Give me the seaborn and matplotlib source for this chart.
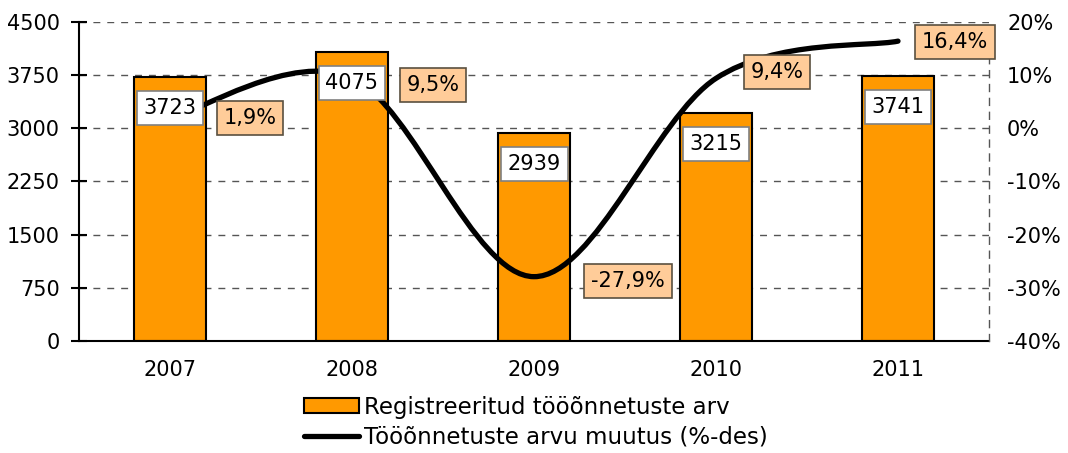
import numpy as np
import matplotlib.pyplot as plt
import seaborn as sns
from matplotlib.path import Path
from matplotlib.patches import PathPatch, Patch
from matplotlib.lines import Line2D

# data
years = ["2007", "2008", "2009", "2010", "2011"]
accidents = [3723, 4075, 2939, 3215, 3741]
change_pct = [1.9, 9.5, -27.9, 9.4, 16.4]

left_ticks = [0, 750, 1500, 2250, 3000, 3750, 4500]
right_ticks = [-40, -30, -20, -10, 0, 10, 20]

# where each percentage box sits relative to its point (pixels)
pct_offsets = [(80, 0), (81, -7), (94, -4), (61, 6), (57, -1)]

bar_label = "Registreeritud tööõnnetuste arv"
line_label = "Tööõnnetuste arvu muutus (%-des)"

sns.set_style("white")
plt.rcParams["font.family"] = ["DejaVu Sans"]
plt.rcParams["font.size"] = 15
for k in ["text.color", "axes.labelcolor", "xtick.color", "ytick.color"]:
    plt.rcParams[k] = "black"

orange = "#FF9900"
peach = "#FFCC99"
dash = (0, (5, 5))

fig = plt.figure(figsize=(10.68, 4.53), dpi=100)
ax = fig.add_axes([79 / 1068, 1 - 341 / 453, 910 / 1068, 319 / 453])

sns.barplot(x=years, y=accidents, ax=ax, color=orange, width=0.4,
            edgecolor="black", linewidth=1.5, saturation=1)
ax.set_xlim(-0.5, 4.5)
ax.set_ylim(0, 4500)
ax.set_yticks(left_ticks)
ax.yaxis.grid(True, linestyle=dash, color="#555555", linewidth=1)
ax.set_axisbelow(True)
ax.set_xlabel("")
ax.set_ylabel("")

for s in ["top", "right"]:
    ax.spines[s].set_visible(False)
for s in ["left", "bottom"]:
    ax.spines[s].set_color("black")
    ax.spines[s].set_linewidth(1.5)

ax.tick_params(axis="y", direction="inout", length=12, width=1.5, pad=8)
ax.tick_params(axis="x", which="major", length=0, pad=14)
ax.set_xticks(np.arange(-0.5, 5, 1), minor=True)
ax.tick_params(axis="x", which="minor", direction="inout", length=12, width=1.2)

# second axis for the percentage change
ax2 = ax.twinx()
ax2.set_ylim(-40, 20)
ax2.set_yticks(right_ticks)
ax2.set_yticklabels([f"{t}%" for t in right_ticks])
ax2.tick_params(axis="y", length=0, pad=13)
for s in ["top", "left", "bottom"]:
    ax2.spines[s].set_visible(False)
ax2.spines["right"].set_linestyle(dash)
ax2.spines["right"].set_color("#555555")
ax2.spines["right"].set_linewidth(1)
ax2.grid(False)

# smoothed line (Bezier through the points, like Excel's smoothed line)
pts = np.column_stack([np.arange(len(change_pct)), change_pct]).astype(float)
ext = np.vstack([pts[0], pts, pts[-1]])
verts = [pts[0]]
codes = [Path.MOVETO]
for i in range(len(pts) - 1):
    p0, p1, p2, p3 = ext[i], ext[i + 1], ext[i + 2], ext[i + 3]
    verts += [p1 + (p2 - p0) / 6, p2 - (p3 - p1) / 6, p2]
    codes += [Path.CURVE4] * 3
ax2.add_patch(PathPatch(Path(verts, codes), facecolor="none", edgecolor="black",
                        linewidth=3.8, capstyle="round", zorder=3))

# bar value boxes (on ax2 so they sit above the line)
for i, v in enumerate(accidents):
    ax2.annotate(str(v), xy=(i, v), xycoords=ax.transData,
                 xytext=(0, -31), textcoords="offset pixels",
                 ha="center", va="center", fontsize=15, zorder=5,
                 bbox=dict(boxstyle="square,pad=0.33", fc="white", ec="#808080", lw=1.2))

# percentage boxes
for i, v in enumerate(change_pct):
    txt = f"{v:.1f}%".replace(".", ",")
    ax2.annotate(txt, xy=(i, v), xytext=pct_offsets[i], textcoords="offset pixels",
                 ha="center", va="center", fontsize=15, zorder=6,
                 bbox=dict(boxstyle="square,pad=0.33", fc=peach, ec="#5a5040", lw=1.2))

handles = [Patch(facecolor=orange, edgecolor="black", linewidth=1.5),
           Line2D([0], [0], color="black", linewidth=3.8)]
fig.legend(handles, [bar_label, line_label], loc="center",
           bbox_to_anchor=(0.502, 1 - 422 / 453), frameon=False, fontsize=16.5,
           handlelength=2.4, handleheight=0.65, handletextpad=0.2, labelspacing=0.3)

fig.savefig("out.png", dpi=100)
